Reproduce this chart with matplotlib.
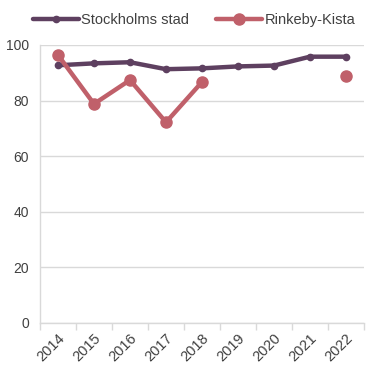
import numpy as np
import matplotlib
matplotlib.use('Agg')
import matplotlib.pyplot as plt

years = ['2014', '2015', '2016', '2017', '2018', '2019', '2020', '2021', '2022']
stockholm = [92.7, 93.4, 93.8, 91.3, 91.6, 92.3, 92.6, 95.8, 95.8]
rinkeby = [96.4, 78.8, 87.4, 72.2, 86.7, np.nan, np.nan, np.nan, 89.0]

plt.rcParams['font.family'] = ['Liberation Sans', 'DejaVu Sans']

fig = plt.figure(figsize=(3.66, 3.66), dpi=100)
ax = fig.add_axes([40 / 366, 1 - 323 / 366, 324 / 366, 278 / 366])

x = np.arange(len(years))
ax.plot(x, stockholm, color='#5E4060', lw=3.2, marker='o', ms=4.5,
        solid_capstyle='round', label='Stockholms stad', zorder=3)
ax.plot(x, rinkeby, color='#C0606A', lw=3.2, marker='o', ms=8,
        solid_capstyle='round', label='Rinkeby-Kista', zorder=4)

ax.set_xlim(-0.5, len(years) - 0.5)
ax.set_ylim(0, 100)
ax.set_yticks(range(0, 101, 20))
ax.yaxis.grid(True, color='#D9D9D9', lw=1)
ax.set_axisbelow(True)

ax.set_xticks(x)
ax.set_xticklabels(years, rotation=45, ha='right', rotation_mode='anchor')
ax.set_xticks(np.arange(-0.5, len(years)), minor=True)
ax.tick_params(axis='x', which='major', length=0, pad=6, labelsize=10.5,
               labelcolor='#404040')
ax.tick_params(axis='x', which='minor', length=5, color='#D9D9D9', width=1)
ax.tick_params(axis='y', length=0, pad=8, labelsize=10, labelcolor='#404040')

for side in ['top', 'right']:
    ax.spines[side].set_visible(False)
for side in ['left', 'bottom']:
    ax.spines[side].set_color('#D9D9D9')
    ax.spines[side].set_linewidth(1)

fig.legend(loc='upper center', bbox_to_anchor=(0.53, 1.0), ncol=2, frameon=False,
           fontsize=10.5, labelcolor='#404040', handlelength=3.2,
           handletextpad=0.15, columnspacing=1.8)

plt.savefig('out.png', dpi=100)
